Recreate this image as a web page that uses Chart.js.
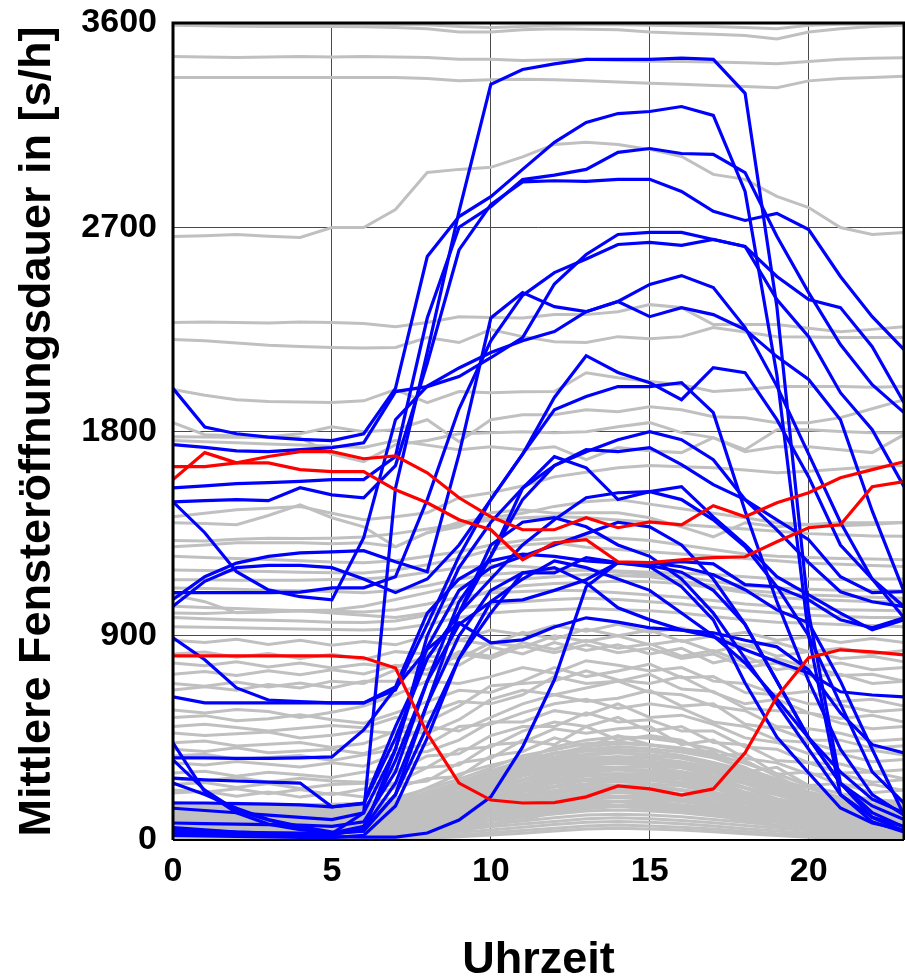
<!DOCTYPE html>
<html>
<head>
<meta charset="utf-8">
<script src="https://cdn.jsdelivr.net/npm/chart.js@4.4.1/dist/chart.umd.min.js"></script>
<style>
html,body{margin:0;padding:0;background:#fff;}
#wrap{width:905px;height:980px;}
</style>
</head>
<body>
<div id="wrap"><canvas id="c" width="905" height="980"></canvas></div>
<script>
const hours = [0,1,2,3,4,5,6,7,8,9,10,11,12,13,14,15,16,17,18,19,20,21,22,23];
const xTickValues = [0,5,10,15,20];
const yTickValues = [0,900,1800,2700,3600];
const xTitle = 'Uhrzeit';
const yTitle = 'Mittlere Fensteröffnungsdauer in [s/h]';

// gray series: upper range
const grayHigh = [
 [3595,3595,3595,3595,3595,3594,3594,3593,3592,3585,3580,3585,3590,3592,3592,3590,3588,3585,3580,3575,3590,3594,3596,3598],
 [3590,3588,3586,3585,3585,3585,3584,3580,3575,3560,3560,3570,3575,3572,3570,3560,3555,3550,3545,3530,3560,3575,3585,3590],
 [3452,3450,3448,3450,3452,3450,3452,3450,3448,3440,3440,3435,3438,3440,3435,3432,3430,3428,3425,3420,3430,3440,3445,3447],
 [3360,3360,3360,3360,3360,3360,3360,3360,3355,3345,3350,3352,3350,3345,3340,3335,3330,3325,3320,3315,3345,3355,3360,3365],
 [2659,2663,2668,2660,2655,2699,2699,2778,2941,2955,2964,3010,3065,3074,3065,3043,3012,2933,2911,2836,2787,2699,2668,2677],
 [2280,2282,2280,2278,2282,2280,2276,2262,2280,2306,2302,2300,2315,2315,2328,2359,2346,2271,2271,2271,2255,2240,2250,2262],
 [2205,2200,2190,2180,2175,2170,2168,2170,2214,2192,2249,2218,2196,2192,2218,2209,2218,2258,2238,2218,2216,2214,2214,2214],
 [1985,1960,1940,1932,1930,1928,1935,1985,1927,1976,1971,1975,1976,2059,2037,2020,2006,1976,1985,1998,1998,1998,1995,1998],
 [1839,1786,1780,1777,1790,1821,1799,1808,1852,1755,1852,1874,1874,1896,1887,1909,1896,1865,1861,1839,1839,1861,1900,1940],
 [1777,1776,1775,1774,1773,1700,1667,1742,1760,1790,1795,1799,1795,1799,1821,1839,1795,1773,1720,1808,1808,1800,1795,1795],
 [1760,1755,1750,1745,1740,1735,1730,1760,1740,1720,1733,1720,1733,1676,1729,1715,1707,1773,1711,1733,1733,1720,1707,1786]
];
// gray series: middle range
const grayMid = [
 [1424,1440,1455,1462,1469,1440,1411,1424,1442,1508,1530,1560,1600,1620,1640,1650,1645,1640,1630,1618,1625,1635,1645,1650],
 [1398,1395,1389,1430,1477,1420,1380,1292,1354,1400,1420,1440,1470,1490,1500,1480,1460,1440,1420,1398,1390,1385,1390,1400],
 [1320,1318,1325,1330,1328,1330,1335,1350,1370,1390,1410,1420,1425,1420,1410,1400,1390,1380,1370,1360,1350,1345,1340,1338],
 [1292,1300,1310,1310,1310,1305,1310,1292,1354,1380,1442,1455,1440,1442,1442,1420,1380,1336,1398,1380,1390,1398,1398,1398],
 [1250,1245,1240,1236,1230,1225,1222,1230,1250,1270,1300,1320,1330,1335,1330,1320,1300,1280,1260,1250,1245,1240,1238,1235],
 [1190,1188,1185,1183,1180,1178,1177,1190,1213,1240,1279,1300,1310,1290,1280,1270,1260,1250,1240,1230,1220,1215,1210,1205],
 [1147,1147,1145,1145,1145,1148,1150,1160,1180,1200,1210,1205,1195,1190,1185,1180,1175,1170,1160,1150,1150,1148,1150,1150],
 [1110,1108,1105,1100,1098,1095,1090,1100,1120,1150,1170,1180,1185,1190,1180,1170,1160,1140,1120,1110,1105,1100,1100,1098],
 [1080,1050,1001,1005,1010,1014,1030,1060,1090,1120,1140,1150,1160,1170,1165,1160,1140,1120,1100,1090,1080,1075,1070,1065],
 [1030,1025,1020,1015,1010,1000,990,980,1000,1050,1100,1120,1130,1135,1140,1138,1130,1110,1090,1070,1060,1055,1050,1050],
 [1000,998,1003,1006,1010,1008,1005,1015,1040,1070,1090,1095,1100,1098,1090,1080,1070,1055,1040,1030,1020,1015,1012,1010],
 [980,975,970,968,965,960,958,965,990,1020,1040,1050,1060,1065,1060,1050,1040,1025,1010,1000,990,985,980,980],
 [940,938,935,932,930,928,925,930,950,980,1000,1010,1015,1020,1015,1010,1000,985,970,960,955,950,945,940],
 [880,870,885,862,880,858,875,860,900,880,925,905,945,920,950,915,935,895,915,880,895,870,888,870],
 [820,828,805,822,800,818,796,830,820,880,860,915,885,930,900,925,875,900,855,870,830,845,820,835],
 [780,768,785,762,780,758,776,760,810,800,870,850,900,875,900,860,880,830,860,810,830,800,810,785],
 [730,742,725,746,728,750,732,770,750,830,810,870,840,880,845,865,810,835,780,800,760,780,750,760],
 [690,678,696,674,692,670,700,700,790,770,850,820,870,835,860,820,845,780,810,750,770,725,730,700],
 [661,675,660,685,670,700,690,750,730,820,800,855,825,860,825,845,800,820,760,780,720,730,690,700]
];
// gray series: lower range
const grayLow = [
 [573,560,575,566,540,563,590,640,700,690,720,760,735,790,770,745,760,700,690,640,655,610,620,590],
 [540,548,526,534,552,530,515,560,610,660,650,700,760,720,745,775,715,720,650,640,600,595,565,575],
 [500,510,496,480,492,505,495,540,520,590,680,690,700,745,705,690,720,650,600,620,560,535,550,520],
 [472,460,468,476,450,462,480,470,560,610,600,640,720,690,700,730,665,655,580,570,560,515,490,500],
 [428,436,414,422,430,408,425,480,470,530,620,660,640,670,700,650,640,590,570,500,490,470,435,445],
 [400,390,406,384,392,400,380,430,500,480,540,600,640,610,625,660,590,600,510,490,440,440,405,415],
 [370,378,356,364,372,350,375,400,420,500,510,560,600,620,580,600,580,520,500,440,430,390,395,375],
 [340,330,346,334,322,340,325,380,390,440,520,520,570,550,600,540,550,510,450,430,380,380,345,355],
 [295,303,281,299,287,275,300,300,370,380,460,500,500,560,520,530,480,480,410,400,340,335,300,310],
 [270,260,276,254,272,260,255,310,320,400,410,480,520,500,540,480,500,430,420,350,340,295,300,270],
 [245,253,231,249,227,245,250,250,320,330,420,430,490,470,490,500,420,440,360,340,290,290,255,265],
 [220,210,226,204,222,200,225,245,260,340,360,440,420,500,440,460,440,370,380,290,300,240,245,218],
 [207,215,193,211,189,207,190,230,270,280,370,390,450,410,460,420,400,390,300,320,240,250,208,220]
];
// gray series: dense bottom band
const grayDense = [
 [165,160,162,158,155,157,162,185,225,268,318,372,398,425,432,420,405,378,338,292,238,205,178,168],
 [152,150,148,151,146,144,150,168,212,255,305,348,385,398,412,402,388,362,318,268,228,188,172,158],
 [146,148,142,140,141,137,140,162,198,248,296,342,366,392,390,392,372,342,308,258,212,182,158,152],
 [138,136,137,132,130,131,135,148,188,238,288,322,352,372,384,370,362,328,288,248,200,168,152,140],
 [130,128,129,125,122,124,126,138,178,228,268,312,338,362,360,364,342,318,272,232,198,158,140,136],
 [124,125,120,118,118,114,117,133,168,212,262,298,332,348,356,346,338,302,268,222,182,154,134,126],
 [116,117,113,113,109,108,112,124,162,204,248,288,318,342,342,344,322,298,252,218,176,146,126,122],
 [112,107,106,103,103,99,101,119,148,196,238,282,308,328,338,326,318,282,248,202,172,136,122,110],
 [104,100,101,96,96,94,94,108,144,184,232,268,302,318,322,322,302,278,232,198,160,132,110,106],
 [95,95,91,91,87,87,89,101,134,176,218,262,288,312,312,308,298,262,228,182,156,120,106,97],
 [91,87,87,83,83,79,83,96,126,170,212,248,282,298,308,298,282,258,212,180,146,116,96,93],
 [83,83,79,79,75,75,75,89,121,158,202,242,268,292,292,292,278,242,208,168,142,106,94,85],
 [79,75,75,71,71,67,71,81,113,152,188,232,258,282,288,278,268,232,196,164,130,104,84,81],
 [71,71,67,67,63,63,63,77,104,144,182,218,252,268,278,272,252,228,186,154,126,94,82,73],
 [67,63,63,59,59,55,59,69,99,134,172,212,238,262,262,262,248,212,182,146,120,92,72,69],
 [59,59,55,55,51,51,51,65,89,126,162,198,232,248,258,248,238,208,170,142,108,86,70,61],
 [56,52,52,48,48,44,48,57,85,116,152,192,218,242,242,242,222,198,166,130,106,76,64,58],
 [49,49,45,45,41,41,41,53,77,112,140,182,212,228,238,228,218,186,158,126,96,74,56,53],
 [46,42,42,38,38,34,38,46,73,100,136,168,202,222,222,222,202,182,146,120,92,64,54,46],
 [39,39,35,35,31,31,31,43,65,96,124,162,188,212,218,208,198,168,142,108,88,62,46,43],
 [36,32,32,28,28,24,28,36,61,86,120,148,182,198,208,202,182,166,130,106,78,52,44,36],
 [29,29,25,25,21,21,21,33,53,82,108,142,172,192,192,192,178,152,126,94,76,50,36,33],
 [26,22,22,18,18,14,18,26,49,72,104,128,162,178,188,178,168,150,114,92,66,40,34,26],
 [19,19,15,15,11,11,11,23,41,68,90,122,148,172,172,172,152,136,112,80,64,38,24,23],
 [14,12,12,8,8,6,8,16,37,56,86,108,142,158,168,158,148,128,96,78,52,28,24,14],
 [9,9,6,6,4,4,4,12,29,52,70,102,128,152,152,152,132,126,88,64,50,26,14,12],
 [5,4,4,3,3,2,3,7,25,40,66,88,122,138,148,138,128,112,82,62,40,18,14,6],
 [110,96,88,80,76,72,78,110,170,240,300,352,410,440,455,448,430,400,350,280,210,160,130,118],
 [60,55,50,48,46,44,50,80,140,210,280,330,380,410,425,418,400,368,320,250,180,120,90,72],
 [120,118,122,115,118,112,116,125,140,160,180,200,215,230,235,228,220,205,185,160,140,128,122,118],
 [102,98,104,96,100,94,98,108,120,140,158,175,190,205,210,205,195,180,160,140,122,110,104,100],
 [88,84,90,82,86,80,84,92,104,122,140,155,170,185,190,184,175,160,142,124,108,96,90,86],
 [72,70,74,66,70,64,68,76,88,104,120,136,150,165,170,165,155,140,124,108,92,80,74,70],
 [58,56,60,52,56,50,54,62,72,88,104,118,132,146,150,146,138,122,106,92,78,66,60,56],
 [46,42,48,40,44,38,42,48,58,72,86,100,114,128,132,128,120,106,92,78,64,54,48,44],
 [34,30,36,28,32,26,30,36,46,58,72,84,98,110,114,110,102,90,78,64,52,42,36,32],
 [24,20,26,18,22,16,20,26,34,46,58,70,82,94,98,94,86,76,64,52,42,32,26,22],
 [14,12,16,10,12,8,12,16,24,34,44,56,68,78,82,78,72,62,50,40,30,22,16,12],
 [6,4,8,3,5,2,4,8,14,22,32,42,52,62,66,62,56,48,38,28,20,12,8,5],
 [2,1,3,1,2,1,1,3,8,14,22,30,40,48,52,48,44,36,28,20,12,6,3,2],
 [150,140,145,135,138,130,140,170,230,290,330,360,380,395,400,390,370,340,300,250,200,170,155,150],
 [100,95,98,92,94,90,95,130,190,240,280,320,345,360,368,360,345,320,280,230,180,140,110,104],
 [80,76,78,72,74,70,76,100,160,210,250,290,318,335,340,332,318,295,255,205,160,120,92,84],
 [40,38,40,36,38,34,40,70,130,180,225,262,292,305,312,305,290,270,230,180,130,90,60,45],
 [20,18,20,16,18,14,20,50,110,160,205,240,270,285,292,285,270,250,210,160,110,70,40,25],
 [130,125,128,120,122,118,125,150,200,250,295,335,360,378,385,376,360,332,292,240,190,150,135,130],
 [90,85,88,80,82,78,85,115,175,225,270,305,332,350,356,348,332,308,268,218,170,130,98,92],
 [10,8,10,6,8,5,10,40,95,145,190,225,252,268,275,268,254,234,195,148,98,58,28,14]
];
// blue series
const blueSeries = [
 [55,45,35,30,28,28,120,1550,2150,2770,3330,3395,3420,3440,3440,3440,3445,3440,3290,2350,1000,250,100,40],
 [1990,1820,1790,1775,1765,1760,1790,1990,2571,2747,2835,2955,3074,3162,3201,3210,3232,3193,2858,2050,900,200,80,35],
 [1552,1560,1570,1575,1580,1588,1588,1690,2300,2700,2791,2910,2930,2955,3030,3047,3025,3021,2941,2660,2412,2183,2006,1883],
 [1490,1495,1500,1495,1552,1521,1508,1650,2100,2600,2800,2900,2905,2902,2911,2911,2858,2770,2730,2761,2690,2483,2306,2161],
 [1742,1730,1715,1711,1720,1729,1750,1976,1998,2042,2125,2214,2450,2580,2668,2677,2677,2646,2615,2483,2381,2346,2174,1927],
 [1090,1090,1090,1090,1092,1111,1111,1160,1500,1900,2200,2400,2500,2560,2624,2633,2620,2646,2615,2381,2218,1971,1808,1557],
 [1490,1354,1182,1102,1072,1058,1332,1852,2000,2080,2148,2200,2240,2328,2373,2448,2487,2434,2258,2000,1700,1400,1150,1028],
 [1060,1160,1220,1250,1265,1270,1275,1226,1182,1700,2300,2412,2350,2328,2373,2306,2346,2315,2249,2130,2029,1852,1450,1094],
 [1030,1140,1200,1210,1210,1200,1150,1090,1150,1300,1500,1700,1950,2134,2060,2015,1940,2081,2059,1852,1600,1300,1150,979],
 [891,794,670,617,610,604,604,661,950,1250,1500,1700,1896,1954,1998,1998,2015,1883,1450,1050,700,400,200,110],
 [273,265,260,255,251,146,163,500,800,1000,1250,1500,1650,1711,1764,1799,1764,1676,1500,1367,1222,1094,1050,1028],
 [251,200,140,90,60,35,40,400,900,1200,1400,1550,1650,1720,1711,1729,1654,1566,1500,1411,1323,1160,1090,1094],
 [163,163,160,158,155,146,160,450,800,1000,1150,1300,1411,1508,1530,1535,1500,1411,1292,1116,900,600,300,163],
 [75,72,70,68,66,60,80,300,700,1050,1250,1550,1689,1640,1500,1535,1557,1424,1301,1160,1080,1000,926,970],
 [35,33,30,28,25,22,50,250,600,900,1100,1177,1177,1244,1222,1217,1226,1217,1125,1116,1058,970,935,979],
 [428,212,120,70,45,31,60,350,700,950,1050,1058,1100,1147,1222,1222,1204,1169,1103,1014,957,700,400,110],
 [353,220,130,88,50,31,40,200,500,800,1000,1177,1200,1133,1023,970,926,895,838,785,736,653,639,631],
 [362,362,360,360,362,366,485,670,840,957,869,882,939,979,960,935,925,913,880,851,750,560,420,384],
 [30,25,22,20,18,15,13,13,31,88,190,410,706,1116,1222,1204,1116,970,692,454,295,141,75,44],
 [631,604,604,604,604,604,604,675,1000,1150,1230,1260,1250,1230,1220,1210,1180,1100,950,700,450,250,120,57],
 [140,130,120,110,100,90,120,400,850,1100,1200,1250,1300,1350,1400,1380,1300,1150,950,700,450,250,150,90],
 [45,40,35,32,30,28,40,200,600,1000,1300,1400,1420,1380,1300,1250,1150,1000,800,600,400,200,100,60],
 [20,18,16,14,12,10,20,150,450,800,1050,1150,1230,1200,1150,1100,1000,900,780,620,450,300,180,120]
];
// red series
const redSeries = [
 [1645,1645,1662,1690,1711,1711,1680,1693,1618,1508,1424,1367,1367,1420,1376,1402,1389,1473,1424,1486,1530,1596,1632,1667],
 [1588,1707,1662,1662,1632,1623,1623,1543,1486,1411,1367,1235,1310,1323,1226,1222,1235,1244,1248,1314,1376,1389,1557,1579],
 [811,811,811,811,811,811,803,758,470,251,176,163,165,190,238,225,198,225,384,631,803,838,829,816]
];

function mk(arr, color, width, order) {
  return arr.map(vals => ({
    data: vals.map((v, i) => ({x: hours[i], y: v})),
    borderColor: color,
    borderWidth: width,
    pointRadius: 0,
    tension: 0,
    fill: false,
    order: order
  }));
}

const datasets = [].concat(
  mk(redSeries, '#ff0000', 3.2, 0),
  mk(blueSeries, '#0000ff', 3.2, 1),
  mk(grayHigh, '#c0c0c0', 3, 2),
  mk(grayMid, '#c0c0c0', 3, 2),
  mk(grayLow, '#c0c0c0', 3, 2),
  mk(grayDense, '#c0c0c0', 3, 2)
);

const framePlugin = {
  id: 'frame',
  afterDatasetsDraw(chart) {
    const a = chart.chartArea, ctx = chart.ctx;
    ctx.save();
    ctx.strokeStyle = '#000';
    ctx.lineWidth = 3;
    ctx.beginPath();
    ctx.moveTo(a.left, a.bottom);
    ctx.lineTo(a.left, a.top);
    ctx.lineTo(a.right, a.top);
    ctx.lineTo(a.right, a.bottom);
    ctx.stroke();
    ctx.lineWidth = 2;
    ctx.beginPath();
    ctx.moveTo(a.left, a.bottom);
    ctx.lineTo(a.right, a.bottom);
    ctx.stroke();
    ctx.restore();
  }
};

const fontFam = '"Liberation Sans", Arial, sans-serif';

new Chart(document.getElementById('c'), {
  type: 'line',
  data: { datasets },
  plugins: [framePlugin],
  options: {
    responsive: false,
    animation: false,
    events: [],
    layout: { padding: { top: 23, right: 1, left: 0, bottom: 0 } },
    plugins: { legend: { display: false }, tooltip: { enabled: false } },
    scales: {
      x: {
        type: 'linear',
        min: 0, max: 23,
        afterBuildTicks: s => { s.ticks = xTickValues.map(v => ({value: v})); },
        afterFit: s => { s.height = 140; s.paddingLeft = 0; s.paddingRight = 0; },
        grid: { color: '#4a4a4a', lineWidth: 1, drawTicks: false },
        border: { display: false },
        ticks: { autoSkip: false, maxRotation: 0, padding: 11, color: '#000',
                 callback: v => String(v),
                 font: { family: fontFam, size: 34, weight: 'bold' } },
        title: { display: true, text: xTitle, color: '#000',
                 font: { family: fontFam, size: 45, weight: 'bold', lineHeight: 1 },
                 padding: { top: 0, bottom: -3 } }
      },
      y: {
        type: 'linear',
        min: 0, max: 3600,
        afterBuildTicks: s => { s.ticks = yTickValues.map(v => ({value: v})); },
        afterFit: s => { s.width = 173; s.paddingTop = 0; s.paddingBottom = 0; },
        grid: { color: '#4a4a4a', lineWidth: 1, drawTicks: false },
        border: { display: false },
        ticks: { autoSkip: false, padding: 16, color: '#000',
                 callback: v => String(v),
                 font: { family: fontFam, size: 34, weight: 'bold' } },
        title: { display: true, text: yTitle, color: '#000',
                 font: { family: fontFam, size: 45, weight: 'bold', lineHeight: 1 },
                 padding: { top: 15, bottom: 0 } }
      }
    }
  }
});
</script>
</body>
</html>
